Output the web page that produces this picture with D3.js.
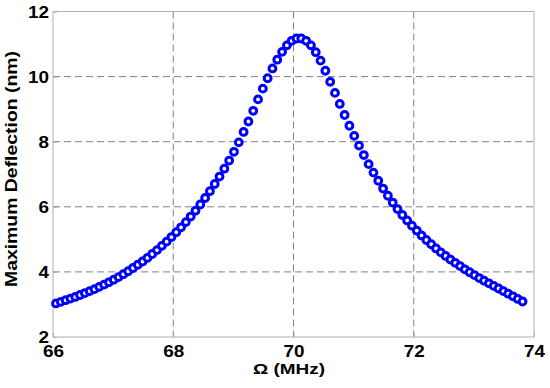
<!DOCTYPE html>
<html>
<head>
<meta charset="utf-8">
<script src="https://cdn.jsdelivr.net/npm/d3@7"></script>
<style>
  html, body { margin: 0; padding: 0; background: #fff; }
  svg { display: block; }
  text { font-family: "Liberation Sans", Arial, sans-serif; font-weight: bold; fill: #000; }
</style>
</head>
<body>
<svg id="chart" width="550" height="388"></svg>
<script>
// Frequency (MHz)
const freq = [66.05,66.13,66.21,66.29,66.37,66.45,66.53,66.61,66.69,66.77,
  66.85,66.93,67.01,67.09,67.17,67.25,67.33,67.41,67.49,67.57,
  67.65,67.73,67.81,67.89,67.97,68.05,68.13,68.21,68.29,68.37,
  68.45,68.53,68.61,68.69,68.77,68.85,68.93,69.01,69.09,69.17,
  69.25,69.33,69.41,69.49,69.57,69.65,69.73,69.81,69.89,69.97,
  70.05,70.13,70.21,70.29,70.37,70.45,70.53,70.61,70.69,70.77,
  70.85,70.93,71.01,71.09,71.17,71.25,71.33,71.41,71.49,71.57,
  71.65,71.73,71.81,71.89,71.97,72.05,72.13,72.21,72.29,72.37,
  72.45,72.53,72.61,72.69,72.77,72.85,72.93,73.01,73.09,73.17,
  73.25,73.33,73.41,73.49,73.57,73.65,73.73,73.81];
// Maximum deflection (nm)
const deflection = [3.03,3.08,3.13,3.18,3.23,3.29,3.35,3.41,3.47,3.54,
  3.61,3.68,3.76,3.84,3.93,4.02,4.12,4.22,4.32,4.43,
  4.55,4.67,4.80,4.93,5.07,5.22,5.37,5.53,5.70,5.88,
  6.07,6.27,6.48,6.70,6.93,7.17,7.42,7.69,7.98,8.30,
  8.62,8.95,9.30,9.63,9.95,10.25,10.52,10.76,10.96,11.10,
  11.17,11.17,11.10,10.96,10.75,10.49,10.18,9.84,9.50,9.16,
  8.82,8.49,8.18,7.88,7.59,7.31,7.05,6.80,6.56,6.34,
  6.13,5.93,5.75,5.58,5.42,5.27,5.12,4.98,4.85,4.72,
  4.60,4.49,4.38,4.28,4.18,4.08,3.99,3.90,3.81,3.73,
  3.65,3.57,3.49,3.41,3.33,3.25,3.17,3.09];
const xTicks = [66, 68, 70, 72, 74];
const yTicks = [2, 4, 6, 8, 10, 12];
const xLabel = "Ω (MHz)";
const yLabel = "Maximum Deflection (nm)";

const svg = d3.select("#chart");
const mLeft = 53, mRight = 534, mTop = 11.5, mBottom = 337;

const x = d3.scaleLinear().domain([66, 74]).range([mLeft, mRight]);
const y = d3.scaleLinear().domain([2, 12]).range([mBottom, mTop]);

// grid lines
const grid = svg.append("g");
grid.selectAll("line.gx").data(xTicks.slice(1, -1)).enter().append("line")
  .attr("x1", d => x(d)).attr("x2", d => x(d))
  .attr("y1", mTop).attr("y2", mBottom)
  .attr("stroke", "#808080").attr("stroke-width", 1).attr("stroke-dasharray", "7,4");
grid.selectAll("line.gy").data(yTicks.slice(1, -1)).enter().append("line")
  .attr("y1", d => y(d)).attr("y2", d => y(d))
  .attr("x1", mLeft).attr("x2", mRight)
  .attr("stroke", "#808080").attr("stroke-width", 1).attr("stroke-dasharray", "7,4");

// axes
const xAxis = d3.axisBottom(x).tickValues(xTicks).tickSize(-4).tickPadding(8.5).tickFormat(d3.format("d"));
const yAxis = d3.axisLeft(y).tickValues(yTicks).tickSize(-4).tickPadding(4).tickFormat(d3.format("d"));

const gx = svg.append("g").attr("transform", `translate(0,${mBottom})`).call(xAxis);
const gy = svg.append("g").attr("transform", `translate(${mLeft},0)`).call(yAxis);
[gx, gy].forEach(g => {
  g.select(".domain").remove();
  g.selectAll(".tick line").attr("stroke", "#aaa");
  g.selectAll(".tick text").style("font-size", "16px").style("font-weight", "bold")
    .style("font-family", "'Liberation Sans', Arial, sans-serif").attr("fill", "#000")
    .attr("textLength", d => String(d).length * 10.5)
    .attr("lengthAdjust", "spacingAndGlyphs");
});
gy.selectAll(".tick text").attr("dy", "0.36em");

// box
svg.append("rect").attr("x", mLeft).attr("y", mTop)
  .attr("width", mRight - mLeft).attr("height", mBottom - mTop)
  .attr("fill", "none").attr("stroke", "#b0b0b0").attr("stroke-width", 1);

// points
svg.append("g").selectAll("circle").data(freq.map((f, i) => [f, deflection[i]]))
  .enter().append("circle")
  .attr("cx", d => x(d[0])).attr("cy", d => y(d[1]))
  .attr("r", 3.4)
  .attr("fill", "#fff").attr("stroke", "#0000ff").attr("stroke-width", 3);

// labels
svg.append("text").attr("x", 289).attr("y", 374)
  .attr("text-anchor", "middle").style("font-size", "15px")
  .attr("textLength", 72).attr("lengthAdjust", "spacingAndGlyphs").text(xLabel);
svg.append("text")
  .attr("transform", `translate(17,169) rotate(-90)`)
  .attr("text-anchor", "middle").style("font-size", "16px")
  .attr("textLength", 236).attr("lengthAdjust", "spacingAndGlyphs").text(yLabel);
</script>
</body>
</html>
